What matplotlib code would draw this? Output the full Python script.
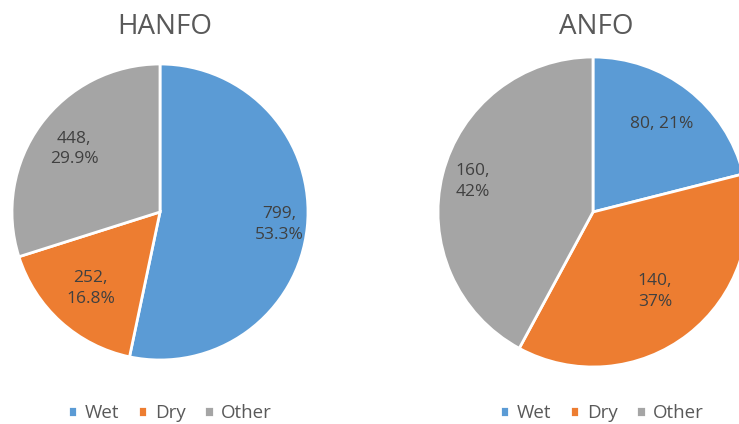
import matplotlib.pyplot as plt
import numpy as np

categories = ['Wet', 'Dry', 'Other']
hanfo_counts = [799, 252, 448]
hanfo_pct = ['53.3%', '16.8%', '29.9%']
anfo_counts = [80, 140, 160]
anfo_pct = ['21%', '37%', '42%']

colors = ['#5B9BD5', '#ED7D31', '#A5A5A5']
text_color = '#404040'

plt.rcParams['font.family'] = ['Open Sans', 'DejaVu Sans']

W, H = 739, 424
fig = plt.figure(figsize=(W / 100, H / 100), dpi=100)


def px_axes(cx, cy, r):
    # axes box in pixel coords (origin top-left) around the pie centre
    return fig.add_axes([(cx - r) / W, (H - cy - r) / H, 2 * r / W, 2 * r / H])


def draw_pie(ax, counts, label_text, dists):
    wedges, _ = ax.pie(counts, colors=colors, startangle=90, counterclock=False,
                       radius=1, wedgeprops=dict(edgecolor='white', linewidth=2))
    for w, txt, d in zip(wedges, label_text, dists):
        ang = np.deg2rad((w.theta1 + w.theta2) / 2)
        ax.text(d * np.cos(ang), d * np.sin(ang), txt, ha='center', va='center',
                fontsize=12.5, color=text_color, linespacing=1.4)
    ax.set_xlim(-1, 1)
    ax.set_ylim(-1, 1)
    ax.set_aspect('equal')
    ax.axis('off')
    return wedges


ax1 = px_axes(160, 212, 148)
hanfo_labels = [f'{c},\n{p}' for c, p in zip(hanfo_counts, hanfo_pct)]
wedges = draw_pie(ax1, hanfo_counts, hanfo_labels, [0.81, 0.7, 0.72])

ax2 = px_axes(593, 212, 155)
anfo_labels = [f'{anfo_counts[0]}, {anfo_pct[0]}',
               f'{anfo_counts[1]},\n{anfo_pct[1]}',
               f'{anfo_counts[2]},\n{anfo_pct[2]}']
draw_pie(ax2, anfo_counts, anfo_labels, [0.72, 0.65, 0.8])

fig.text(165 / W, 1 - 27 / H, 'HANFO', ha='center', va='center', fontsize=20, color='#595959')
fig.text(596 / W, 1 - 27 / H, 'ANFO', ha='center', va='center', fontsize=20, color='#595959')

for cx in (170, 602):
    fig.legend(wedges, categories, loc='center', bbox_to_anchor=(cx / W, 1 - 413 / H),
               ncol=3, frameon=False, fontsize=13.5, labelcolor='#595959',
               handlelength=0.5, handleheight=0.5, handletextpad=0.4, columnspacing=1.0)

fig.savefig('out.png', dpi=100)
